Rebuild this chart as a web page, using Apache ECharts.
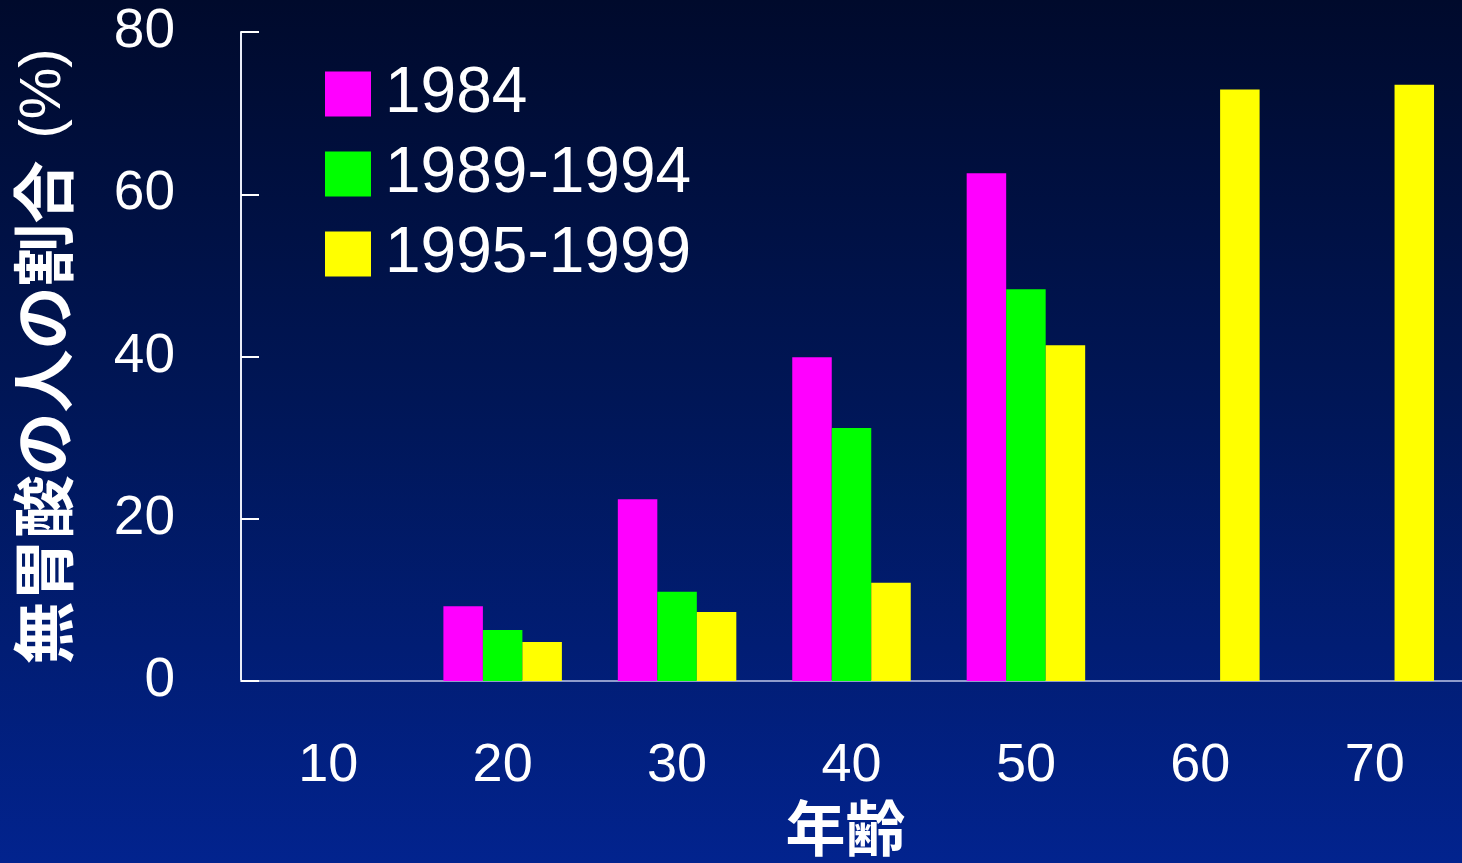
<!DOCTYPE html>
<html>
<head>
<meta charset="utf-8">
<script src="https://cdn.jsdelivr.net/npm/echarts@6/dist/echarts.min.js"></script>
<style>
  html, body { margin: 0; padding: 0; }
  #chart { width: 1462px; height: 863px; }
</style>
</head>
<body>
<div id="chart"></div>
<script>
// Age groups (years)
const categories = ['10', '20', '30', '40', '50', '60', '70'];
// Share of people without gastric acid (%), by survey period
const s1984 = [null, 9.2, 22.4, 39.9, 62.6, null, null];
const s1989 = [null, 6.3, 11.0, 31.2, 48.3, null, null];
const s1995 = [null, 4.8, 8.5, 12.1, 41.4, 72.9, 73.5];
const seriesNames = ['1984', '1989-1994', '1995-1999'];
const seriesColors = ['#ff00ff', '#00ff00', '#ffff00'];
const yTicks = [0, 20, 40, 60, 80];

const latin = '"Liberation Sans", Arial, sans-serif';
const cjk = '"Noto Sans CJK JP", "Liberation Sans", sans-serif';

const chart = echarts.init(document.getElementById('chart'));

const makeSeries = (name, data, color) => ({
  name: name,
  type: 'bar',
  data: data,
  barWidth: 39.5,
  barGap: '0%',
  itemStyle: { color: color },
  emphasis: { disabled: true }
});

chart.setOption({
  animation: false,
  backgroundColor: {
    type: 'linear', x: 0, y: 0, x2: 0, y2: 1,
    colorStops: [
      { offset: 0, color: '#000a2c' },
      { offset: 0.5, color: '#00175a' },
      { offset: 1, color: '#02238e' }
    ]
  },
  grid: { left: 241, right: -4, top: 32, bottom: 182, containLabel: false },
  legend: {
    orient: 'vertical',
    left: 320,
    top: 57,
    itemWidth: 46,
    itemHeight: 45,
    itemGap: 16,
    icon: 'rect',
    data: seriesNames,
    textStyle: {
      color: '#ffffff', fontSize: 64, fontFamily: latin,
      padding: [0, 0, 0, 9]
    }
  },
  xAxis: {
    type: 'category',
    data: categories,
    name: '年齢',
    nameLocation: 'middle',
    nameGap: 112,
    nameTextStyle: {
      color: '#ffffff', fontSize: 60, fontWeight: 'bold', fontFamily: cjk,
      padding: [0, 12, 0, 0]
    },
    axisLine: { lineStyle: { color: '#8f9ccc', width: 2 } },
    axisTick: { show: false },
    axisLabel: { color: '#ffffff', fontSize: 54, fontFamily: latin, margin: 58 }
  },
  yAxis: {
    type: 'value',
    min: yTicks[0],
    max: yTicks[yTicks.length - 1],
    interval: 20,
    name: '{a|無胃酸の人の割合}{s| }{b|(%)}',
    nameLocation: 'middle',
    nameGap: 166,
    nameRotate: 90,
    nameTextStyle: {
      color: '#ffffff',
      rich: {
        a: { color: '#ffffff', fontSize: 63, fontWeight: 'bold', fontFamily: cjk },
        s: { color: '#ffffff', fontSize: 56, fontFamily: latin, width: 22 },
        b: { color: '#ffffff', fontSize: 58, fontFamily: latin }
      }
    },
    axisLine: { show: true, lineStyle: { color: '#e8ecf8', width: 2 } },
    axisTick: { show: true, inside: true, length: 18, lineStyle: { color: '#ffffff', width: 2 } },
    splitLine: { show: false },
    axisLabel: { color: '#ffffff', fontSize: 55, fontFamily: latin, margin: 66 }
  },
  series: [
    makeSeries(seriesNames[0], s1984, seriesColors[0]),
    makeSeries(seriesNames[1], s1989, seriesColors[1]),
    makeSeries(seriesNames[2], s1995, seriesColors[2])
  ]
});
</script>
</body>
</html>
